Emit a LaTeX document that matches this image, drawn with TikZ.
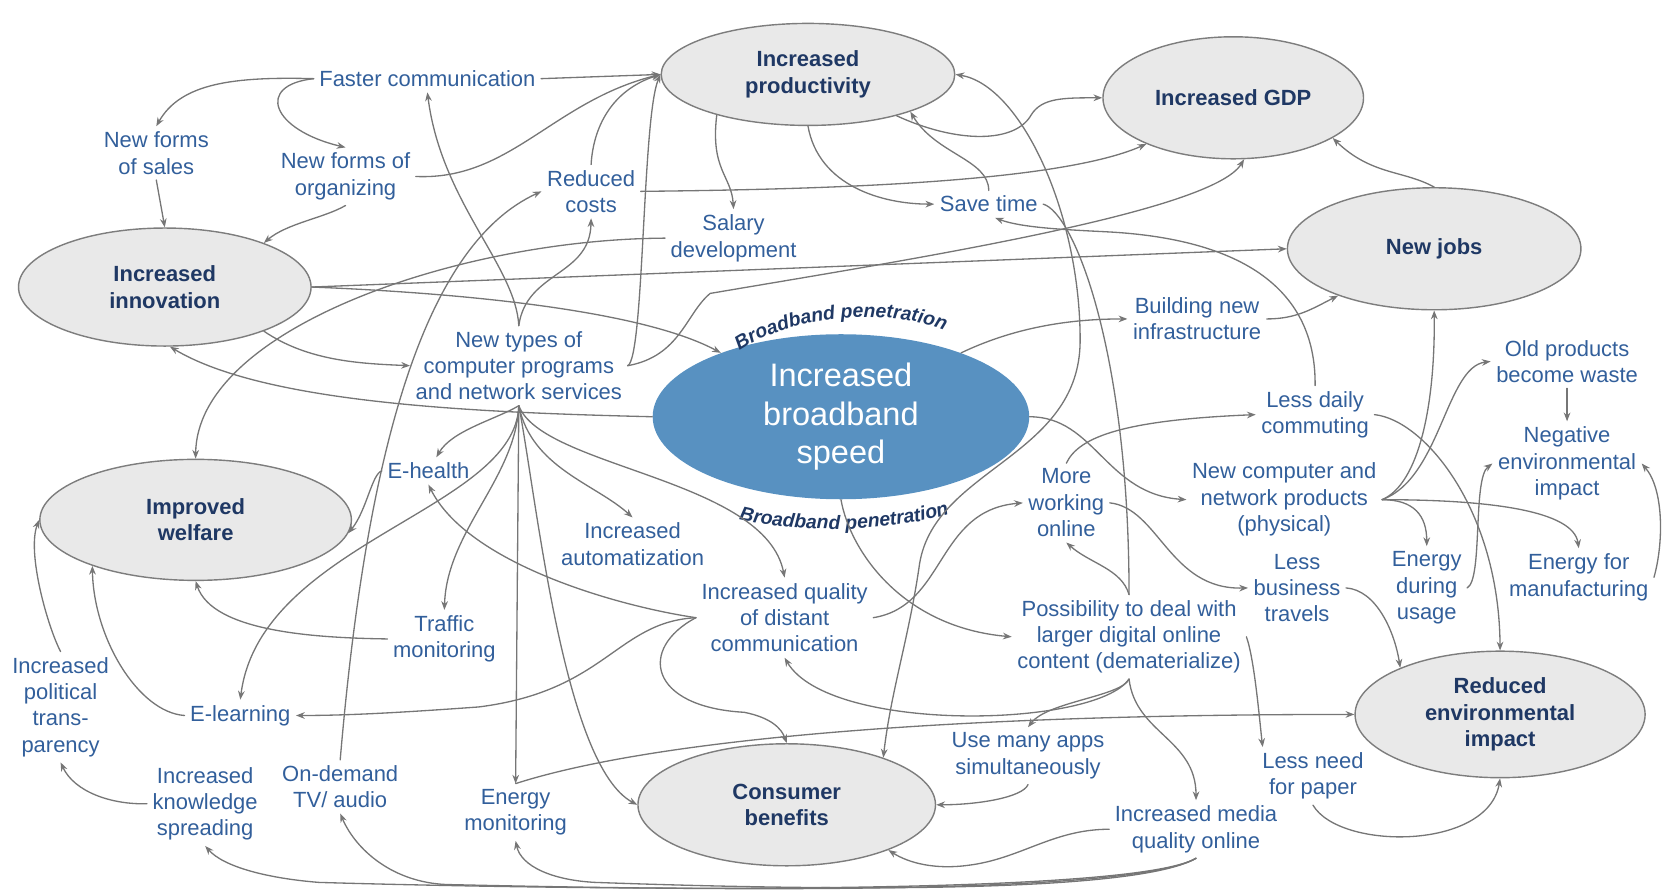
\documentclass[tikz,border=0pt]{standalone}
\usepackage{fontspec}
\setmainfont{Liberation Sans}
\usetikzlibrary{shapes.geometric, arrows.meta, decorations.text}
\definecolor{ovalgray}{RGB}{233,233,233}
\definecolor{ringgray}{RGB}{125,125,125}
\definecolor{linegray}{RGB}{118,118,118}
\definecolor{labelblue}{RGB}{50,95,155}
\definecolor{navyblue}{RGB}{31,56,100}
\definecolor{corefill}{RGB}{88,145,193}
\newcommand\txtsize{\fontsize{12.5}{15}\selectfont}
\newcommand\coresize{\fontsize{18.5}{22}\selectfont}
\newcommand\bandfont{\fontsize{11}{13}\selectfont\bfseries\itshape}
\begin{document}
\begin{tikzpicture}[x=0.2126mm, y=-0.2126mm, line join=round, line cap=round, >={Stealth[length=5pt,width=3.8pt]}]
	\tikzset{
		effect-oval/.style={ellipse, draw=ringgray, fill=ovalgray, line width=0.8pt, inner sep=0pt, align=center, text=navyblue, font=\txtsize\bfseries},
		core-oval/.style={ellipse, fill=corefill, draw=none, inner sep=0pt, align=center, text=white, font=\coresize},
		factor/.style={align=center, text=labelblue, font=\txtsize, inner sep=3pt},
		link/.style={draw=linegray, line width=0.75pt, ->}
	}
	\useasboundingbox (0,0) rectangle (1568,837);
	
	\node[effect-oval, minimum width=58.7mm, minimum height=20.4mm] (prod) at (760,70) {Increased\\productivity};
	\node[effect-oval, minimum width=52.1mm, minimum height=24.4mm] (gdp) at (1160,92) {Increased GDP};
	\node[effect-oval, minimum width=58.5mm, minimum height=23.6mm] (innov) at (155,270) {Increased\\innovation};
	\node[effect-oval, minimum width=58.7mm, minimum height=24.4mm] (jobs) at (1349,234) {New jobs};
	\node[effect-oval, minimum width=62.3mm, minimum height=24.2mm] (welfare) at (184,489) {Improved\\welfare};
	\node[effect-oval, minimum width=59.5mm, minimum height=24.4mm] (cons) at (740,757) {Consumer\\benefits};
	\node[effect-oval, minimum width=58mm, minimum height=25.3mm] (renv) at (1411,672) {Reduced\\environmental\\impact};
	\node[core-oval, minimum width=75.3mm, minimum height=33mm] (speed) at (791,392) {Increased\\broadband\\speed};
	
	\node[factor] (fastcom) at (402,74) {Faster communication};
	\node[factor] (salesnew) at (147,144) {New forms\\of sales};
	\node[factor] (orgnew) at (325,166) {New forms of\\organizing};
	\node[factor] (costs) at (556,180) {Reduced\\costs};
	\node[factor] (salary) at (690,224) {Salary\\development};
	\node[factor] (savetime) at (930,192) {Save time};
	\node[factor] (build) at (1126,300) {Building new\\infrastructure};
	\node[factor] (newtypes) at (488,344) {New types of\\computer programs\\and network services};
	\node[factor] (oldprod) at (1474,340) {Old products\\become waste};
	\node[factor] (commute) at (1237,390) {Less daily\\commuting};
	\node[factor] (negenv) at (1474,436) {Negative\\environmental\\impact};
	\node[factor] (ehealth) at (403,443) {E-health};
	\node[factor] (products) at (1208,470) {New computer and\\network products\\(physical)};
	\node[factor] (workonline) at (1003,473) {More\\working\\online};
	\node[factor] (autom) at (595,512) {Increased\\automatization};
	\node[factor] (quality) at (738,581) {Increased quality\\of distant\\communication};
	\node[factor] (traffic) at (418,601) {Traffic\\monitoring};
	\node[factor] (business) at (1220,553) {Less\\business\\travels};
	\node[factor] (enusage) at (1342,553) {Energy\\during\\usage};
	\node[factor] (enmanuf) at (1485,543) {Energy for\\manufacturing};
	\node[factor] (possib) at (1062,599) {Possibility to deal with\\larger digital online\\content (dematerialize)};
	\node[factor] (transp) at (57,665) {Increased\\political\\trans-\\parency};
	\node[factor] (elearn) at (226,673) {E-learning};
	\node[factor] (apps) at (967,711) {Use many apps\\simultaneously};
	\node[factor] (paper) at (1235,730) {Less need\\for paper};
	\node[factor] (knowl) at (193,756) {Increased\\knowledge\\spreading};
	\node[factor] (ondemand) at (320,740) {On-demand\\TV/ audio};
	\node[factor] (enmon) at (485,764) {Energy\\monitoring};
	\node[factor] (media) at (1125,780) {Increased media\\quality online};
	
	\path[decorate, decoration={text along path, text align=center, text color=navyblue, text={|\bandfont|Broadband penetration}}] (683,340) .. controls (730,295) and (850,285) .. (903,318);
	\path[decorate, decoration={text along path, text align=center, text color=navyblue, text={|\bandfont|Broadband penetration}}] (686,486) .. controls (740,503) and (845,502) .. (902,480);
	
	\draw[link] (fastcom.west) .. controls (220,72) and (170,78) .. (salesnew.north);
	\draw[link] (fastcom.west) .. controls (240,80) and (255,122) .. (orgnew.north);
	\draw[link] (fastcom.east) -- (prod.west);
	\draw[link] (salesnew.south) -- (innov.north);
	\draw[link] (orgnew.south) .. controls (305,205) and (270,210) .. (innov.24);
	\draw[link] (orgnew.east) .. controls (480,170) and (520,95) .. (prod.west);
	\draw[link] (costs.north) .. controls (558,120) and (575,85) .. (prod.west);
	\draw[link] (newtypes.east) .. controls (606,338) and (604,110) .. (prod.west);
	\draw[link] (newtypes.north) .. controls (485,250) and (415,190) .. (fastcom.south);
	\draw[link] (newtypes.north) .. controls (495,255) and (555,260) .. (costs.south);
	\draw[link] (ondemand.north) .. controls (345,420) and (400,230) .. (costs.west);
	\draw[link] (newtypes.east) .. controls (640,335) and (645,295) .. (668,276) .. controls (850,245) and (1140,200) .. (gdp.-80);
	
	\draw[link] (costs.east) .. controls (800,178) and (1000,170) .. (gdp.208);
	\draw[link] (prod.204) .. controls (668,160) and (688,165) .. (salary.north);
	\draw[link] (prod.south) .. controls (770,175) and (830,192) .. (savetime.west);
	\draw[link] (savetime.north) .. controls (930,150) and (880,145) .. (prod.-20);
	\draw[link] (prod.-25) .. controls (900,135) and (955,135) .. (970,108) .. controls (980,92) and (1000,92) .. (gdp.west);
	\draw[link] (jobs.north) .. controls (1320,160) and (1290,165) .. (gdp.-22);
	\draw[link, <->] (prod.east) .. controls (960,80) and (1016,200) .. (1016,320) .. controls (1016,430) and (880,440) .. (865,530) .. controls (855,600) and (838,650) .. (cons.26);
	\draw[link, -] (savetime.east) .. controls (1010,200) and (1062,330) .. (possib.north);
	
	\draw[link] (innov.east) -- (jobs.west);
	\draw[link] (innov.east) .. controls (420,275) and (600,290) .. (speed.152);
	\draw[link] (innov.-24) .. controls (290,340) and (340,342) .. (newtypes.west);
	\draw[link] (speed.west) .. controls (450,388) and (250,380) .. (innov.-85);
	\draw[link] (salary.west) .. controls (430,225) and (185,310) .. (welfare.north);
	\draw[link] (speed.28) .. controls (950,310) and (1000,300) .. (build.west);
	\draw[link] (build.east) .. controls (1220,300) and (1235,290) .. (jobs.206);
	\draw[link] (speed.east) .. controls (1030,392) and (1040,465) .. (products.west);
	\draw[link] (speed.south) .. controls (800,520) and (850,590) .. (possib.west);
	
	\draw[link] (newtypes.south) .. controls (465,395) and (425,405) .. (ehealth.60);
	\draw[link] (newtypes.south) .. controls (485,450) and (420,500) .. (traffic.north);
	\draw[link] (newtypes.south) .. controls (485,480) and (245,510) .. (elearn.north);
	\draw[link] (newtypes.south) -- (enmon.north);
	\draw[link] (newtypes.south) .. controls (505,470) and (530,720) .. (cons.west);
	\draw[link] (newtypes.south) .. controls (500,440) and (560,455) .. (autom.north);
	\draw[link] (newtypes.south) .. controls (510,440) and (720,450) .. (quality.north);
	
	\draw[link] (ehealth.west) .. controls (350,445) and (345,480) .. (welfare.-5);
	\draw[link] (traffic.west) .. controls (300,600) and (200,595) .. (welfare.south);
	\draw[link] (elearn.west) .. controls (130,670) and (88,600) .. (welfare.204);
	\draw[link] (transp.north) .. controls (45,590) and (25,520) .. (welfare.west);
	\draw[link] (knowl.west) .. controls (105,757) and (70,745) .. (transp.south);
	
	\draw[link] (quality.west) .. controls (580,570) and (440,530) .. (ehealth.south);
	\draw[link] (quality.west) .. controls (580,585) and (570,650) .. (450,665) .. controls (380,670) and (330,673) .. (elearn.east);
	\draw[link] (quality.west) .. controls (600,610) and (610,665) .. (700,670) .. controls (725,675) and (735,685) .. (cons.north);
	\draw[link] (quality.east) .. controls (890,570) and (880,480) .. (workonline.west);
	
	\draw[link] (workonline.north) .. controls (1015,410) and (1060,395) .. (commute.west);
	\draw[link] (workonline.east) .. controls (1090,478) and (1100,555) .. (business.west);
	\draw[link] (possib.north) .. controls (1055,535) and (1025,530) .. (workonline.south);
	\draw[link] (possib.south) .. controls (1055,655) and (985,660) .. (apps.north);
	\draw[link] (possib.south) .. controls (1030,685) and (780,690) .. (quality.south);
	\draw[link] (possib.south) .. controls (1068,690) and (1125,695) .. (media.north);
	\draw[link] (possib.east) .. controls (1180,620) and (1185,680) .. (paper.150);
	\draw[link] (apps.south) .. controls (962,750) and (920,757) .. (cons.east);
	\draw[link] (media.west) .. controls (990,780) and (960,808) .. (910,814) .. controls (880,818) and (855,812) .. (cons.-24);
	\draw[link] (media.south) .. controls (1060,845) and (700,835) .. (560,830) .. controls (520,828) and (490,815) .. (enmon.south);
	\draw[link] (media.south) .. controls (1060,845) and (600,836) .. (420,832) .. controls (370,830) and (335,800) .. (ondemand.south);
	\draw[link] (media.south) .. controls (1060,845) and (500,836) .. (300,830) .. controls (250,826) and (210,815) .. (knowl.south);
	\draw[link] (enmon.north) .. controls (600,700) and (850,672) .. (renv.west);
	
	\draw[link] (paper.south) .. controls (1260,800) and (1400,800) .. (renv.south);
	\draw[link] (business.east) .. controls (1295,555) and (1312,595) .. (renv.155);
	\draw[link] (commute.east) .. controls (1340,395) and (1410,480) .. (renv.north);
	\draw[link] (commute.north) .. controls (1238,280) and (1180,225) .. (1040,218) .. controls (1000,216) and (960,214) .. (savetime.-65);
	\draw[link] (products.east) .. controls (1335,455) and (1350,380) .. (jobs.south);
	\draw[link] (products.east) .. controls (1355,450) and (1360,345) .. (oldprod.west);
	\draw[link] (products.east) .. controls (1330,470) and (1342,485) .. (enusage.north);
	\draw[link] (products.east) .. controls (1400,470) and (1480,480) .. (enmanuf.north);
	\draw[link] (oldprod.south) -- (negenv.north);
	\draw[link] (enusage.east) .. controls (1395,545) and (1385,450) .. (negenv.west);
	\draw[link] (enmanuf.east) .. controls (1565,510) and (1565,460) .. (negenv.east);
	
\end{tikzpicture}
\end{document}
